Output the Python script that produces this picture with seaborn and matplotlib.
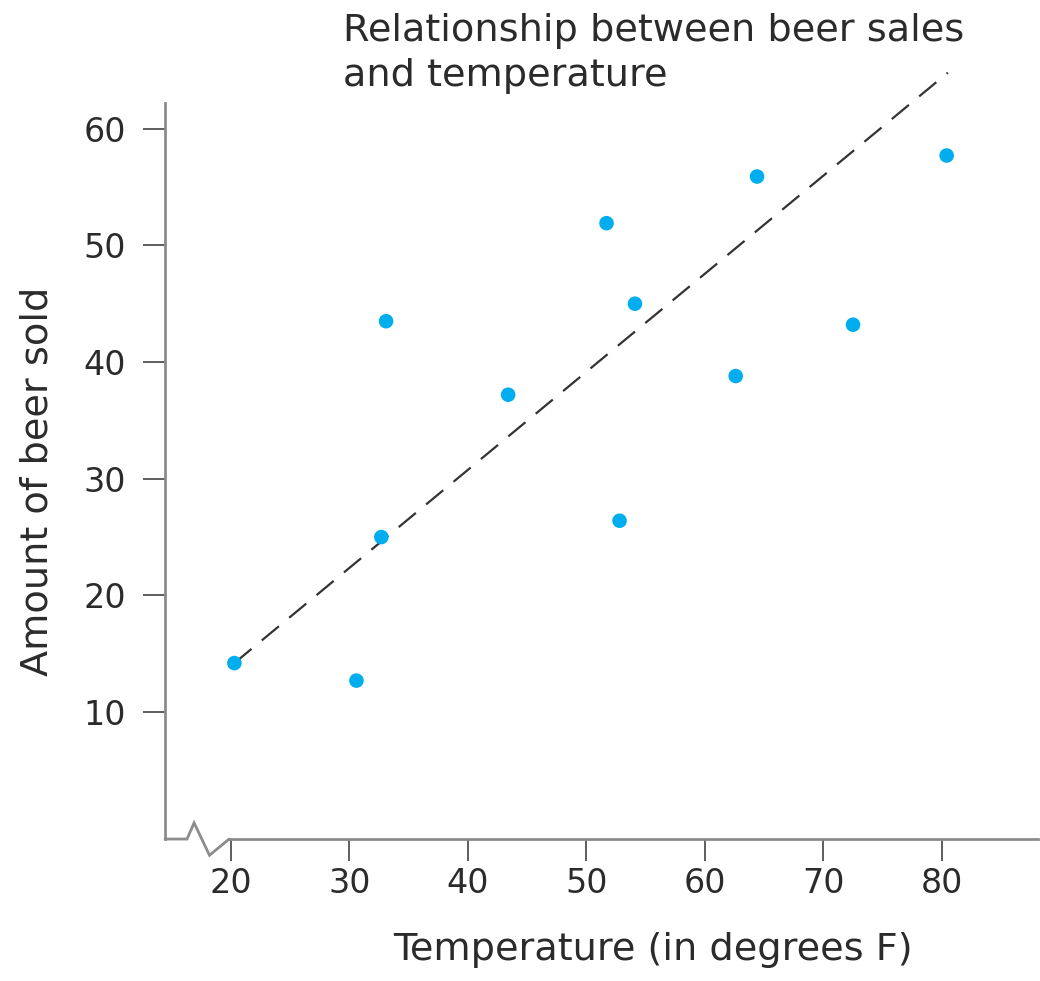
import seaborn as sns
import pandas as pd
import matplotlib.pyplot as plt
import matplotlib.transforms as mtransforms

# values
temperature = [20.3, 30.6, 32.7, 33.1, 43.4, 51.7, 52.8, 54.1, 62.6, 64.4, 72.5, 80.4]
beer_sold = [14.2, 12.7, 25.0, 43.5, 37.2, 51.9, 26.4, 45.0, 38.8, 55.9, 43.2, 57.7]

# dashed trend line end points
trend_x = [20.3, 80.5]
trend_y = [14.2, 64.8]

x_ticks = [20, 30, 40, 50, 60, 70, 80]
y_ticks = [10, 20, 30, 40, 50, 60]

TEXT = "#2b2b2b"
SPINE = "#8c8c8c"


def main():
    sns.set_style("white")
    plt.rcParams['font.family'] = ['DejaVu Sans']

    fig = plt.figure(figsize=(10.4, 9.81), dpi=100)
    ax = fig.add_axes([0.1587, 0.1447, 0.998 - 0.1587, 0.895 - 0.1447])

    df = pd.DataFrame({'temp': temperature, 'beer': beer_sold})
    trend = pd.DataFrame({'temp': trend_x, 'beer': trend_y})

    sns.lineplot(data=trend, x='temp', y='beer', ax=ax, color="#333333",
                 linewidth=1.6, dashes=False, zorder=2)
    ax.lines[0].set_dashes((10, 6))
    ax.lines[0].set_clip_on(False)
    sns.scatterplot(data=df, x='temp', y='beer', ax=ax, color="#00AEEF",
                    s=110, edgecolor='none', linewidth=0, zorder=3)

    ax.set_xlim(14.45, 88.1)
    ax.set_ylim(-0.88, 62.2)
    ax.set_xticks(x_ticks)
    ax.set_yticks(y_ticks)
    ax.set_xticklabels([str(t) for t in x_ticks])
    ax.set_yticklabels([str(t) for t in y_ticks])
    ax.tick_params(axis='both', direction='out', length=16, width=1.1,
                   color="#333333", labelsize=24, labelcolor=TEXT)
    ax.tick_params(axis='x', pad=4, bottom=True)
    ax.tick_params(axis='y', pad=12, left=True)

    for side in ['top', 'right']:
        ax.spines[side].set_visible(False)
    ax.spines['left'].set_color(SPINE)
    ax.spines['left'].set_linewidth(2)
    ax.spines['bottom'].set_color(SPINE)
    ax.spines['bottom'].set_linewidth(2)
    ax.spines['bottom'].set_bounds(19.86, 88.1)

    # axis break zigzag on the x axis
    trans = mtransforms.blended_transform_factory(ax.transData, ax.transAxes)
    ax.plot([14.45, 16.3, 16.9, 18.2, 19.86], [0, 0, 0.022, -0.022, 0],
            transform=trans, color=SPINE, linewidth=2, clip_on=False,
            solid_joinstyle='miter')

    ax.set_xlabel('')
    ax.set_ylabel('')
    fig.text(653 / 1040, 1 - 950 / 981, 'Temperature (in degrees F)',
             ha='center', va='center', fontsize=27.5, color=TEXT)
    fig.text(38 / 1040, 1 - 481 / 981, 'Amount of beer sold',
             ha='center', va='center', rotation=90, fontsize=27.5, color=TEXT)
    fig.text(343 / 1040, 1 - 13 / 981,
             'Relationship between beer sales\nand temperature',
             ha='left', va='top', fontsize=27.5, color=TEXT, linespacing=1.32)

    fig.savefig('out.png', dpi=100)


if __name__ == "__main__":
    main()
